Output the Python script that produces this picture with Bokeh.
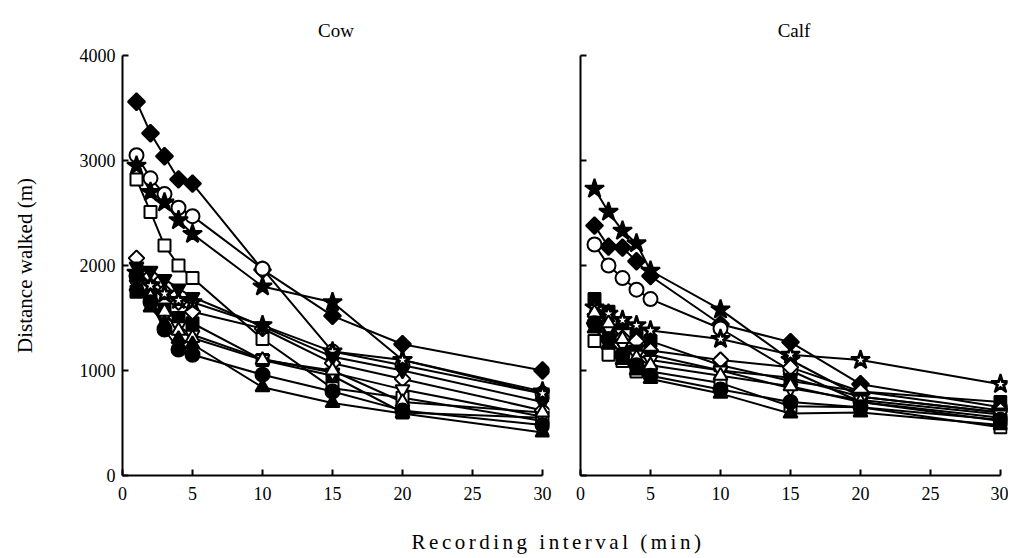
import numpy as np
from bokeh.plotting import figure
from bokeh.layouts import row, column
from bokeh.models import Div, Range1d, FixedTicker
from bokeh.embed import file_html
from bokeh.resources import INLINE

# ---------------- data ----------------
intervals = [1, 2, 3, 4, 5, 10, 15, 20, 30]
x_ticks = [0, 5, 10, 15, 20, 25, 30]
y_ticks = [0, 1000, 2000, 3000, 4000]
panel_titles = ["Cow", "Calf"]
x_label = "Recording interval (min)"
y_label = "Distance walked (m)"

# Cow panel (distance walked, m)
cow_filled_diamond = [3560, 3260, 3040, 2820, 2780, 1960, 1520, 1250, 1000]
cow_open_circle = [3050, 2830, 2680, 2550, 2470, 1970, 1180, 1050, 780]
cow_filled_star = [2950, 2700, 2600, 2430, 2300, 1800, 1650, 1100, 800]
cow_open_square = [2820, 2510, 2190, 2000, 1880, 1300, 830, 740, 520]
cow_open_diamond = [2070, 1900, 1750, 1650, 1560, 1400, 1070, 920, 620]
cow_open_star = [1930, 1810, 1730, 1670, 1650, 1430, 1180, 1100, 780]
cow_filled_inv_triangle = [1990, 1950, 1870, 1780, 1700, 1420, 1130, 1000, 700]
cow_open_inv_triangle = [1820, 1640, 1520, 1420, 1340, 1110, 980, 820, 560]
cow_open_triangle = [1800, 1700, 1560, 1380, 1310, 1100, 1000, 700, 600]
cow_filled_circle = [1900, 1650, 1390, 1200, 1150, 960, 800, 620, 480]
cow_filled_triangle = [1800, 1600, 1450, 1300, 1250, 840, 690, 590, 410]
cow_filled_square = [1750, 1680, 1580, 1500, 1450, 1100, 950, 600, 550]

# Calf panel (distance walked, m)
calf_filled_diamond = [2380, 2180, 2170, 2040, 1900, 1440, 1270, 870, 650]
calf_open_circle = [2200, 2000, 1880, 1770, 1680, 1400, 1000, 700, 550]
calf_filled_star = [2730, 2510, 2330, 2210, 1950, 1580, 1100, 750, 600]
calf_open_square = [1280, 1150, 1090, 990, 990, 880, 660, 650, 460]
calf_open_diamond = [1450, 1390, 1310, 1280, 1190, 1100, 1030, 800, 620]
calf_open_star = [1600, 1540, 1480, 1430, 1380, 1300, 1150, 1100, 870]
calf_filled_inv_triangle = [1500, 1380, 1250, 1200, 1150, 1000, 930, 750, 600]
calf_open_inv_triangle = [1500, 1400, 1250, 1150, 1100, 1000, 830, 720, 580]
calf_open_triangle = [1550, 1450, 1300, 1120, 1050, 950, 850, 700, 520]
calf_filled_circle = [1450, 1300, 1150, 1050, 950, 820, 700, 650, 530]
calf_filled_triangle = [1400, 1250, 1100, 1000, 920, 780, 590, 600, 480]
calf_filled_square = [1680, 1560, 1450, 1350, 1280, 1050, 900, 800, 700]

cow_series = [
    ("filled_square", cow_filled_square),
    ("filled_diamond", cow_filled_diamond), ("open_circle", cow_open_circle),
    ("filled_star", cow_filled_star), ("open_square", cow_open_square),
    ("open_diamond", cow_open_diamond), ("open_star", cow_open_star),
    ("filled_inv_triangle", cow_filled_inv_triangle), ("open_inv_triangle", cow_open_inv_triangle),
    ("open_triangle", cow_open_triangle), ("filled_circle", cow_filled_circle),
    ("filled_triangle", cow_filled_triangle),
]
calf_series = [
    ("filled_square", calf_filled_square),
    ("filled_diamond", calf_filled_diamond), ("open_circle", calf_open_circle),
    ("filled_star", calf_filled_star), ("open_square", calf_open_square),
    ("open_diamond", calf_open_diamond), ("open_star", calf_open_star),
    ("filled_inv_triangle", calf_filled_inv_triangle), ("open_inv_triangle", calf_open_inv_triangle),
    ("open_triangle", calf_open_triangle), ("filled_circle", calf_filled_circle),
    ("filled_triangle", calf_filled_triangle),
]

# ---------------- styles ----------------
FONT = "Liberation Serif"
INK = "black"
marker_styles = {
    "filled_diamond": dict(marker="square", size=12, angle=np.pi / 4, fill=INK),
    "open_diamond": dict(marker="square", size=11, angle=np.pi / 4, fill="white"),
    "open_circle": dict(marker="circle", size=14, angle=0, fill="white"),
    "filled_circle": dict(marker="circle", size=14, angle=0, fill=INK),
    "open_square": dict(marker="square", size=12, angle=0, fill="white"),
    "filled_square": dict(marker="square", size=12, angle=0, fill=INK),
    "filled_star": dict(marker="star", size=20, angle=0, fill=INK),
    "open_star": dict(marker="star", size=20, angle=0, fill=INK),
    "filled_triangle": dict(marker="triangle", size=14, angle=0, fill=INK),
    "open_triangle": dict(marker="triangle", size=14, angle=0, fill="white"),
    "filled_inv_triangle": dict(marker="inverted_triangle", size=14, angle=0, fill=INK),
    "open_inv_triangle": dict(marker="inverted_triangle", size=14, angle=0, fill="white"),
}

FRAME_W = 427
FRAME_H = 420
X_END = 30.5
TOP = 55
BOTTOM = 40


def make_panel(title, series, left_border, right_border, show_y_labels):
    p = figure(
        width=left_border + FRAME_W + right_border,
        height=TOP + FRAME_H + BOTTOM,
        x_range=Range1d(0, X_END), y_range=Range1d(0, 4000),
        output_backend="svg", toolbar_location=None,
        min_border_left=left_border, min_border_right=right_border,
        min_border_top=TOP, min_border_bottom=BOTTOM,
    )
    p.title.text = title
    p.title.align = "center"
    p.title.text_font = FONT
    p.title.text_font_size = "19px"
    p.title.text_font_style = "normal"
    p.title.text_color = INK
    p.title.standoff = 30

    p.xgrid.grid_line_color = None
    p.ygrid.grid_line_color = None
    p.outline_line_color = None
    p.background_fill_color = "white"
    p.border_fill_color = "white"

    for ax in (p.xaxis[0], p.yaxis[0]):
        ax.axis_line_width = 2
        ax.major_tick_line_width = 2
        ax.major_tick_in = 6
        ax.major_tick_out = 0
        ax.minor_tick_line_color = None
        ax.major_label_text_font = FONT
        ax.major_label_text_font_size = "18px"
        ax.axis_line_color = INK
        ax.major_tick_line_color = INK
        ax.major_label_text_color = INK

    p.xaxis.ticker = FixedTicker(ticks=x_ticks)
    p.xaxis.bounds = (0, 30)
    p.xaxis.major_label_standoff = 11
    p.yaxis.ticker = FixedTicker(ticks=y_ticks)
    p.yaxis.major_label_standoff = 7

    if show_y_labels:
        p.yaxis.axis_label = y_label
        p.yaxis.axis_label_text_font = FONT
        p.yaxis.axis_label_text_font_size = "21px"
        p.yaxis.axis_label_text_font_style = "normal"
        p.yaxis.axis_label_text_color = INK
        p.yaxis.axis_label_standoff = 40
    else:
        p.yaxis.major_label_overrides = {t: "" for t in y_ticks}
        p.yaxis.major_label_standoff = 0

    for key, ys in series:
        p.line(intervals, ys, line_color=INK, line_width=2)
    for key, ys in series:
        st = marker_styles[key]
        p.scatter(intervals, ys, marker=st["marker"], size=st["size"], angle=st["angle"],
                  fill_color=st["fill"], line_color=INK, line_width=2)
        if key == "open_star":
            p.scatter(intervals, ys, marker="star", size=8, fill_color="white",
                      line_color=None)
    return p


p_cow = make_panel(panel_titles[0], cow_series, 122, 12, True)
p_calf = make_panel(panel_titles[1], calf_series, 19, 1, False)

xlab = Div(
    text=x_label, width=1008, height=35, margin=(0, 0, 0, 0),
    styles={"text-align": "center", "font-family": FONT, "font-size": "21px",
            "letter-spacing": "3.5px", "color": "black", "padding-top": "12px",
            "padding-left": "108px"},
)

layout = column(row(p_cow, p_calf, spacing=0), xlab, spacing=0)

with open("out.html", "w") as f:
    f.write(file_html(layout, INLINE))
